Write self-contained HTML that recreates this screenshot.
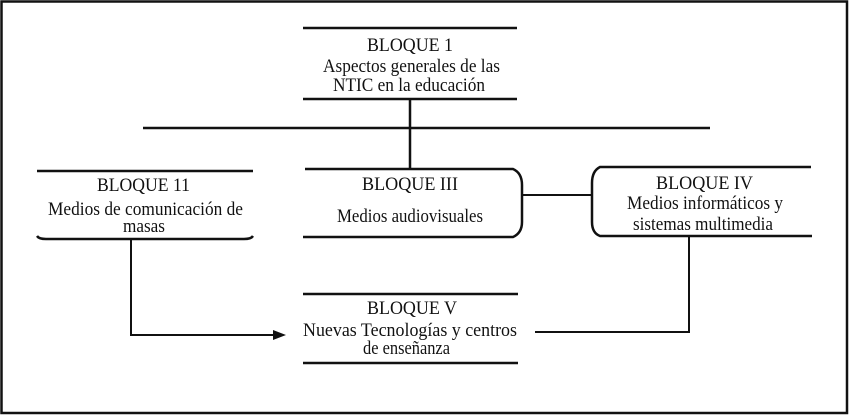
<!DOCTYPE html>
<html>
<head>
<meta charset="utf-8">
<style>
  html, body { margin: 0; padding: 0; background: #fff; }
  svg { display: block; }
  text { font-family: "Liberation Serif", "DejaVu Serif", serif; font-size: 18.5px; fill: #111; }
</style>
</head>
<body>
<svg width="850" height="416" viewBox="0 0 850 416" xmlns="http://www.w3.org/2000/svg">
  <rect x="0" y="0" width="850" height="416" fill="#fff"/>
  <!-- outer border -->
  <rect x="1.5" y="1.5" width="845.5" height="411.5" fill="none" stroke="#111" stroke-width="2.5"/>

  <g fill="none" stroke="#111" stroke-width="2.5">
    <!-- Bloque 1 -->
    <line x1="303" y1="28" x2="517" y2="28"/>
    <line x1="303" y1="99" x2="517" y2="99"/>
    <line x1="410" y1="99" x2="410" y2="169"/>
    <!-- long horizontal -->
    <line x1="143" y1="128" x2="710" y2="128"/>

    <!-- Bloque 11 -->
    <line x1="37" y1="171" x2="253" y2="171"/>
    <path d="M37,236 Q39,239 46,239 L244,239 Q251,239 253,236"/>

    <!-- Bloque III -->
    <path d="M305,169 H513 Q522,173 522,185 V222 Q522,233 513,237 H303"/>

    <!-- Bloque IV -->
    <path d="M811,167 H600 Q592,171 592,183 V222 Q592,233 600,236 H812"/>

    <!-- Bloque V -->
    <line x1="303" y1="294" x2="518" y2="294"/>
    <line x1="303" y1="363" x2="518" y2="363"/>
  </g>

  <g fill="none" stroke="#111" stroke-width="2">
    <!-- III - IV connector -->
    <line x1="522" y1="195" x2="592" y2="195"/>
    <!-- 11 -> V arrow -->
    <path d="M131,239 V335 H276"/>
    <!-- IV - V connector -->
    <path d="M689,236 V332 H535"/>
  </g>
  <polygon points="273,330 286,335 273,340" fill="#111"/>

  <!-- Texts -->
  <text x="410" y="51" text-anchor="middle" textLength="86" lengthAdjust="spacingAndGlyphs">BLOQUE 1</text>
  <text x="411.5" y="72" text-anchor="middle" textLength="177" lengthAdjust="spacingAndGlyphs">Aspectos generales de las</text>
  <text x="409" y="91" text-anchor="middle" textLength="152" lengthAdjust="spacingAndGlyphs">NTIC en la educación</text>

  <text x="143.5" y="191" text-anchor="middle" textLength="93" lengthAdjust="spacingAndGlyphs">BLOQUE 11</text>
  <text x="145.5" y="215" text-anchor="middle" textLength="195" lengthAdjust="spacingAndGlyphs">Medios de comunicación de</text>
  <text x="144" y="232" text-anchor="middle" textLength="42" lengthAdjust="spacingAndGlyphs">masas</text>

  <text x="410" y="190" text-anchor="middle" textLength="96" lengthAdjust="spacingAndGlyphs">BLOQUE III</text>
  <text x="410" y="222" text-anchor="middle" textLength="146" lengthAdjust="spacingAndGlyphs">Medios audiovisuales</text>

  <text x="704.5" y="189" text-anchor="middle" textLength="97" lengthAdjust="spacingAndGlyphs">BLOQUE IV</text>
  <text x="705" y="209" text-anchor="middle" textLength="156" lengthAdjust="spacingAndGlyphs">Medios informáticos y</text>
  <text x="703" y="230" text-anchor="middle" textLength="140" lengthAdjust="spacingAndGlyphs">sistemas multimedia</text>

  <text x="412" y="314" text-anchor="middle" textLength="90" lengthAdjust="spacingAndGlyphs">BLOQUE V</text>
  <text x="410" y="336" text-anchor="middle" textLength="214" lengthAdjust="spacingAndGlyphs">Nuevas Tecnologías y centros</text>
  <text x="406.5" y="354" text-anchor="middle" textLength="87" lengthAdjust="spacingAndGlyphs">de enseñanza</text>
</svg>
</body>
</html>
